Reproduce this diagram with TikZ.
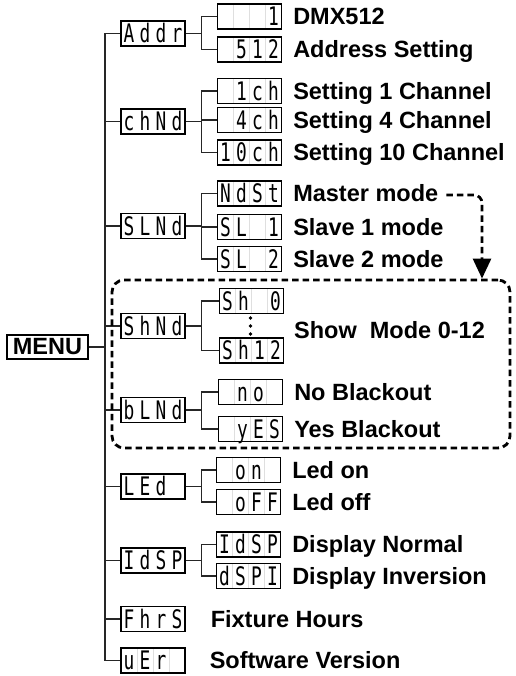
\documentclass[tikz,border=0pt]{standalone}
\usepackage{fontspec}
\setmainfont{Liberation Sans}
\newfontfamily\segfont[FakeStretch=0.7]{DejaVu Sans Mono}
\usetikzlibrary{positioning,arrows.meta,calc}
\newcommand{\segcells}[4]{%
  \makebox[16pt]{#1}\makebox[16pt]{#2}\makebox[16pt]{#3}\makebox[16pt]{#4}%
}

\begin{document}
\begin{tikzpicture}[
      x=1pt, y=-1pt,
      wire/.style={line width=1.2pt, black!85},
      segbox/.style={draw, line width=1.1pt, minimum width=64pt, minimum height=25pt,
        inner sep=0pt, text height=18.5pt, text depth=0pt,
        font=\segfont\fontsize{25.5}{25.5}\selectfont},
      celldiv/.style={path picture={
        \foreach \k in {1,2,3}
          \draw[gray!25, line width=.5pt]
            ($(path picture bounding box.south west)!\k/4!(path picture bounding box.south east)$) --
            ($(path picture bounding box.north west)!\k/4!(path picture bounding box.north east)$);
        }},
      menubox/.style={draw, line width=1.3pt, minimum width=81pt, minimum height=24pt,
        inner sep=0pt, font=\bfseries\fontsize{23.5}{23.5}\selectfont},
      lab/.style={anchor=west, inner sep=0pt, text height=16.5pt, text depth=0pt,
        font=\bfseries\fontsize{23.5}{23.5}\selectfont},
      dashbox/.style={draw, line width=2.8pt, dash pattern=on 6.5pt off 4pt, rounded corners=12pt},
      flow/.style={line width=2.8pt, dash pattern=on 6.5pt off 4pt, rounded corners=8pt,
        -{Triangle[length=20pt,width=18pt]}}
    ]
      \useasboundingbox (0,0) rectangle (515,676);

      \node[menubox] (menu) at (47.5,347) {MENU};

      % first level
      \foreach \n/\y/\a/\b/\c/\d in {addr/33.5/A/d/d/r, chnd/121.5/c/h/N/d,
          slnd/226/S/L/N/d, shnd/326/S/h/N/d, blnd/410/b/L/N/d, led/486.5/L/E/d/{},
          disp/560.5/I/d/S/P, fhrs/619/F/h/r/S} {
        \node[segbox] (\n) at (153,\y) {\segcells{\a}{\b}{\c}{\d}};
      }
      \node[segbox, celldiv] (ver) at (153,660.5) {\segcells{u}{E}{r}{}};

      % second level
      \foreach \n/\x/\y/\a/\b/\c/\d in {
          addrA/249.5/16.5/{}/{}/{}/1, addrB/249.5/49.5/{}/5/1/2,
          chndA/249.5/91/{}/1/c/h, chndB/249.5/120/{}/4/c/h, chndC/249.5/152.5/1/0/c/h,
          slndA/249.5/193.5/N/d/S/t, slndB/249.5/227/S/L/{}/1, slndC/249.5/259/S/L/{}/2,
          shndA/251.5/301/S/h/{}/0, shndB/251.5/350.5/S/h/1/2,
          blndA/250.5/392/{}/n/o/{}, blndB/250.5/429/{}/y/E/S,
          ledA/248.5/470/{}/o/n/{}, ledB/248.5/502/{}/o/F/F,
          dispA/248.5/544.5/I/d/S/P, dispB/248.5/576/d/S/P/I} {
        \node[segbox, celldiv] (\n) at (\x,\y) {\segcells{\a}{\b}{\c}{\d}};
      }

      % dots between Sh 0 and Sh12
      \foreach \y in {318,326,334}
        \fill (250.5,\y) circle (1.9pt);

      % labels
      \foreach \k/\t in {addrA/DMX512, addrB/Address Setting,
          chndA/Setting 1 Channel, chndB/Setting 4 Channel, chndC/Setting 10 Channel,
          slndA/Master mode, slndB/Slave 1 mode, slndC/Slave 2 mode,
          blndA/No Blackout, blndB/Yes Blackout, ledA/Led on, ledB/Led off,
          dispA/Display Normal, dispB/Display Inversion} {
        \node[lab] (l\k) at ($(\k.east)+(11,0)$) {\t};
      }
      \node[lab] (lshow) at (294,330) {Show~~Mode 0-12};
      \node[lab] (lfhrs) at ($(fhrs.east)+(25,0)$) {Fixture Hours};
      \node[lab] (lver) at ($(ver.east)+(24,0)$) {Software Version};

      % tree
      \coordinate (trunk) at (105,347);
      \draw[wire] (menu.east) -- (trunk);
      \foreach \n in {addr,chnd,slnd,shnd,blnd,led,disp,fhrs,ver}
        \draw[wire] (\n.west) -| (trunk);

      \foreach \p/\kids in {addr/{addrA,addrB}, chnd/{chndA,chndB,chndC},
          slnd/{slndA,slndB,slndC}, shnd/{shndA,shndB}, blnd/{blndA,blndB},
          led/{ledA,ledB}, disp/{dispA,dispB}} {
        \coordinate (\p-br) at ($(\p.east)+(16,0)$);
        \draw[wire] (\p.east) -- (\p-br);
        \foreach \k in \kids
          \draw[wire] (\k.west) -| (\p-br);
      }

      % dashed group
      \node[dashbox, minimum width=398pt, minimum height=168pt] (grp) at (311,364) {};
      \draw[flow] ($(lslndA.east)+(8,1.5)$) -| ([xshift=171pt]grp.north);
    \end{tikzpicture}
\end{document}
